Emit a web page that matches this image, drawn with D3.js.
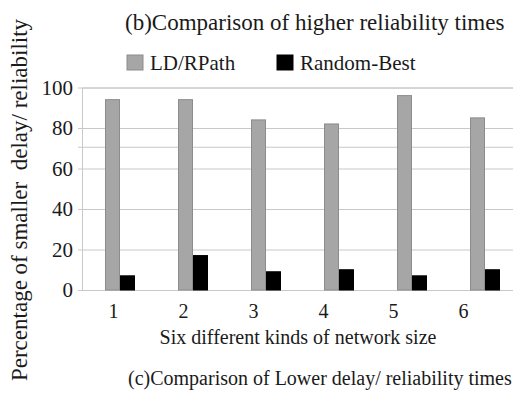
<!DOCTYPE html>
<html>
<head>
<meta charset="utf-8">
<script src="https://cdn.jsdelivr.net/npm/d3@7"></script>
<style>
  body { margin: 0; background: #fff; }
  svg text { font-family: "Liberation Serif", "Times New Roman", serif; fill: #1a1a1a; }
</style>
</head>
<body>
<div id="chart"></div>
<script>
// data
var sizes = ["1", "2", "3", "4", "5", "6"];
var seriesNames = ["LD/RPath", "Random-Best"];
var ldRPath = [94, 94, 84, 82, 96, 85];
var randomBest = [7, 17, 9, 10, 7, 10];
var yTicks = [0, 20, 40, 60, 80, 100];
var refLine = [70.5];

var width = 513;
var height = 393;
var serif = "'Liberation Serif', 'Times New Roman', serif";
var colors = { "LD/RPath": "#a6a6a6", "Random-Best": "#000000" };
var strokes = { "LD/RPath": "#8c8c8c", "Random-Best": "#000000" };

var svg = d3.select("#chart")
  .append("svg")
  .attr("width", width)
  .attr("height", height);

var y = d3.scaleLinear().domain([0, 100]).range([290, 87.5]);

// bands continue past the right edge, like the cropped original
var x0 = d3.scaleBand()
  .domain(sizes)
  .range([83.5, 521.5])
  .paddingInner(0.589)
  .paddingOuter(0.2945);
var x1 = d3.scaleBand()
  .domain(seriesNames)
  .range([0, x0.bandwidth()]);

// labels under the axis sit a bit off the bars in the original
var xLabel = d3.scalePoint().domain(sizes).range([113, 463]);

// grid + y axis
var yAxis = d3.axisLeft(y)
  .tickValues(yTicks)
  .tickSize(-(width - 82))
  .tickPadding(9);
var gy = svg.append("g")
  .attr("transform", "translate(82,0)")
  .call(yAxis)
  .attr("font-family", serif)
  .attr("font-size", 21);
gy.select(".domain").attr("stroke", "#c8c8c8");
gy.selectAll(".tick line").attr("stroke", "#c8c8c8").attr("x1", -4);
gy.selectAll(".tick text").attr("fill", "#1a1a1a");

svg.selectAll(".ref")
  .data(refLine)
  .enter()
  .append("line")
  .attr("class", "ref")
  .attr("x1", 78)
  .attr("x2", width)
  .attr("y1", (d) => y(d))
  .attr("y2", (d) => y(d))
  .attr("stroke", "#c8c8c8");

// bars
var rows = sizes.map((s, i) => ({
  size: s,
  values: [
    { name: "LD/RPath", value: ldRPath[i] },
    { name: "Random-Best", value: randomBest[i] },
  ],
}));

svg.append("g")
  .selectAll("g")
  .data(rows)
  .enter()
  .append("g")
  .attr("transform", (d) => "translate(" + x0(d.size) + ",0)")
  .selectAll("rect")
  .data((d) => d.values)
  .enter()
  .append("rect")
  .attr("x", (d) => x1(d.name) + 0.5)
  .attr("y", (d) => y(d.value))
  .attr("width", x1.bandwidth() - 1)
  .attr("height", (d) => y(0) - y(d.value))
  .attr("fill", (d) => colors[d.name])
  .attr("stroke", (d) => strokes[d.name]);

// x labels
var gx = svg.append("g")
  .attr("transform", "translate(0,296)")
  .call(d3.axisBottom(xLabel).tickSize(0).tickPadding(8))
  .attr("font-family", serif)
  .attr("font-size", 20);
gx.select(".domain").remove();
gx.selectAll(".tick text").attr("fill", "#1a1a1a");

// legend
var legend = svg.append("g")
  .selectAll("g")
  .data(seriesNames)
  .enter()
  .append("g")
  .attr("transform", (d, i) => "translate(" + (127 + i * 150) + ",55)");
legend.append("rect")
  .attr("width", 16)
  .attr("height", 15)
  .attr("fill", (d) => colors[d])
  .attr("stroke", (d) => strokes[d]);
legend.append("text")
  .attr("x", 23)
  .attr("y", 15)
  .attr("font-family", serif)
  .attr("font-size", 21)
  .text((d) => d);

// titles
svg.append("text")
  .attr("x", 125)
  .attr("y", 30)
  .attr("font-family", serif)
  .attr("font-size", 23)
  .text("(b)Comparison of higher reliability times");

svg.append("text")
  .attr("x", 298)
  .attr("y", 344)
  .attr("text-anchor", "middle")
  .attr("font-family", serif)
  .attr("font-size", 20)
  .text("Six different kinds of network size");

svg.append("text")
  .attr("x", 128)
  .attr("y", 385)
  .attr("font-family", serif)
  .attr("font-size", 20)
  .text("(c)Comparison of Lower delay/ reliability times");

svg.append("text")
  .attr("transform", "translate(27,200) rotate(-90)")
  .attr("text-anchor", "middle")
  .attr("font-family", serif)
  .attr("font-size", 23)
  .style("white-space", "pre")
  .text("Percentage of smaller  delay/ reliability");
</script>
</body>
</html>
